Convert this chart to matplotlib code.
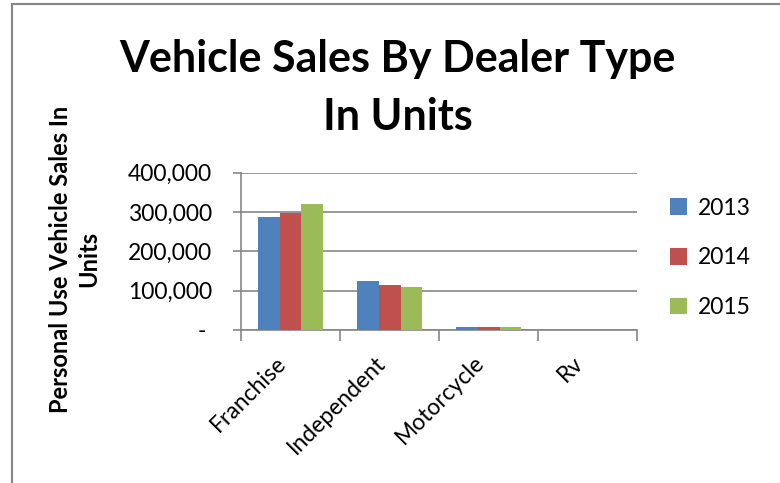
import numpy as np
import matplotlib
matplotlib.use("Agg")
import matplotlib.pyplot as plt
from matplotlib.patches import Rectangle
from matplotlib.ticker import FuncFormatter, FixedLocator
from matplotlib.transforms import ScaledTranslation

# data
categories = ["Franchise", "Independent", "Motorcycle", "Rv"]
years = ["2013", "2014", "2015"]
sales_2013 = [286000, 124000, 7800, 600]
sales_2014 = [297000, 114000, 7600, 600]
sales_2015 = [321000, 109000, 7500, 600]
yticks = [0, 100000, 200000, 300000, 400000]

colors = ["#4F81BD", "#C0504D", "#9BBB59"]
plt.rcParams["font.family"] = ["Lato", "DejaVu Sans"]

fig = plt.figure(figsize=(7.8, 4.83), dpi=100)
ax = fig.add_axes([0.309, 0.317, 0.508, 0.3256])

x = np.arange(len(categories))
w = 0.22
for i, (vals, yr) in enumerate(zip([sales_2013, sales_2014, sales_2015], years)):
    ax.bar(x + (i - 1) * w, vals, width=w, color=colors[i], label=yr, zorder=3)

ax.set_xlim(-0.5, len(categories) - 0.5)
ax.set_ylim(0, 400000)
ax.yaxis.set_major_locator(FixedLocator(yticks))
ax.yaxis.set_major_formatter(FuncFormatter(lambda v, p: "- " if v == 0 else f"{int(v):,}"))
ax.grid(axis="y", color="#868686", linewidth=1.2, zorder=0)
ax.set_axisbelow(True)

for s in ["top", "right"]:
    ax.spines[s].set_visible(False)
for s in ["left", "bottom"]:
    ax.spines[s].set_color("#868686")
    ax.spines[s].set_linewidth(1.2)

# ticks at the category boundaries, labels at category centers
ax.set_xticks(np.arange(len(categories) + 1) - 0.5)
ax.set_xticklabels([])
ax.set_xticks(x, minor=True)
ax.set_xticklabels(categories, minor=True, rotation=45, ha="right",
                   rotation_mode="anchor", fontsize=16.5)
ax.tick_params(axis="x", which="minor", length=0, pad=16)
ax.tick_params(axis="x", which="major", length=8, color="#868686", width=1.2)
ax.tick_params(axis="y", length=6, color="#868686", width=1.2, labelsize=16.5, pad=15)
shift = ScaledTranslation(-15 / 100, 0, fig.dpi_scale_trans)
for lab in ax.get_xticklabels(minor=True):
    lab.set_transform(lab.get_transform() + shift)

fig.text(0.51, 0.818, "Vehicle Sales By Dealer Type\nIn Units", ha="center", va="center",
         fontsize=31, fontweight="bold", linespacing=1.55)
fig.text(0.096, 0.463, "Personal Use Vehicle Sales In\nUnits", ha="center", va="center",
         rotation=90, fontsize=17, fontweight="bold", linespacing=1.3)

ax.legend(loc="center left", bbox_to_anchor=(0.832, 0.466), bbox_transform=fig.transFigure,
          frameon=False, fontsize=16.5, labelspacing=1.25, handlelength=0.75,
          handleheight=0.75, handletextpad=0.5)

fig.patches.append(Rectangle((12 / 780, -0.1), 1.2, 1 - 4 / 483 + 0.1,
                             transform=fig.transFigure, fill=False,
                             edgecolor="#868686", linewidth=1.5))

fig.savefig("out.png", dpi=100)
